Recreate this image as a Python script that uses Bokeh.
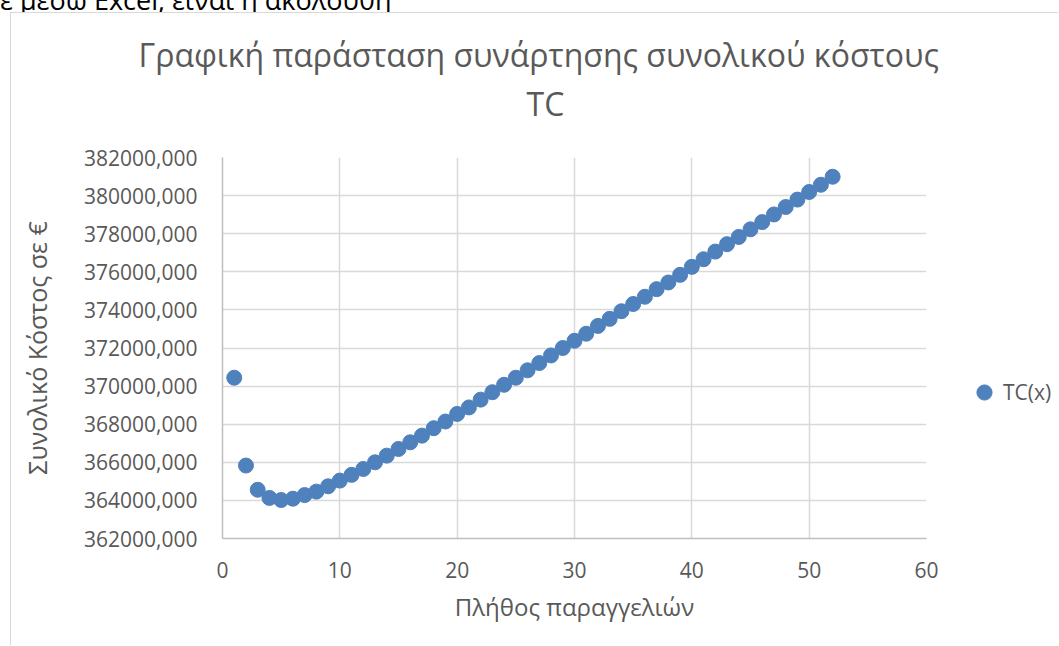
from bokeh.plotting import figure
from bokeh.models import (ColumnDataSource, Legend, LegendItem, Title, Div,
                          FixedTicker, CustomJSTickFormatter, Range1d)
from bokeh.layouts import column, row
from bokeh.embed import file_html
from bokeh.resources import INLINE

# ---- data ----
orders = list(range(1, 53))
total_cost = [370440, 365830, 364560, 364130, 364020, 364090, 364280, 364460, 364740, 365040,
              365340, 365650, 366000, 366350, 366700, 367050, 367400, 367790, 368140, 368540,
              368880, 369290, 369680, 370070, 370440, 370830, 371210, 371610, 372000, 372380,
              372750, 373160, 373530, 373930, 374310, 374690, 375090, 375440, 375840, 376260,
              376660, 377060, 377450, 377830, 378230, 378610, 379010, 379400, 379790, 380190,
              380570, 380990]
x_ticks = [0, 10, 20, 30, 40, 50, 60]
y_ticks = list(range(362000, 382001, 2000))
series_name = "TC(x)"
title_line1 = "Γραφική παράσταση συνάρτησης συνολικού κόστους"
title_line2 = "TC"
x_title = "Πλήθος παραγγελιών"
y_title = "Συνολικό Κόστος σε €"
top_text = "ε μέσω Excel, είναι η ακόλουθη"

FONT = "Open Sans"
GREY = "#595959"
BLUE = "#4F81BD"
BORDER = "1px solid #D9D9D9"
W, H = 1059, 646
OX, OY = 11, 13                      # canvas origin in the page (after border)
SPLIT = 960                          # page x where the legend panel starts
FL, FR, FT, FB = 222, 926, 157, 538  # frame edges in page px

src = ColumnDataSource(dict(x=orders, y=total_cost))

p = figure(width=SPLIT - OX, height=H - OY, output_backend="svg", toolbar_location=None,
           x_range=Range1d(0, 60), y_range=Range1d(362000, 382000),
           min_border_left=FL - OX, min_border_right=SPLIT - FR,
           min_border_top=FT - OY, min_border_bottom=H - FB,
           margin=(0, 0, 0, 10), styles={"border-left": BORDER, "border-top": BORDER})
p.background_fill_color = "white"
p.border_fill_color = "white"
p.outline_line_color = None

# axes
p.xaxis.ticker = FixedTicker(ticks=x_ticks)
p.yaxis.ticker = FixedTicker(ticks=y_ticks)
p.yaxis.formatter = CustomJSTickFormatter(code="return tick.toFixed(0) + ',000';")
for ax in (p.xaxis[0], p.yaxis[0]):
    ax.axis_line_color = "#BFBFBF"
    ax.axis_line_width = 1.5
    ax.major_tick_line_color = None
    ax.minor_tick_line_color = None
    ax.major_label_text_font = FONT
    ax.major_label_text_font_size = "21px"
    ax.major_label_text_color = GREY
    ax.axis_label_text_font = FONT
    ax.axis_label_text_color = GREY
    ax.axis_label_text_font_style = "normal"
p.xaxis.axis_label_text_font_size = "24px"
p.yaxis.axis_label_text_font_size = "25px"
p.xaxis.major_label_standoff = 17
p.yaxis.major_label_standoff = 19
p.xaxis.axis_label = x_title
p.yaxis.axis_label = y_title
p.xaxis.axis_label_standoff = 9
p.yaxis.axis_label_standoff = 27

p.xgrid.grid_line_color = "#D9D9D9"
p.ygrid.grid_line_color = "#D9D9D9"
p.xgrid.grid_line_width = 1.5
p.ygrid.grid_line_width = 1.5

r = p.scatter("x", "y", source=src, size=15, fill_color=BLUE, line_color=BLUE)

# chart title, two lines (first added sits closest to the plot); a blank spacer first
p.add_layout(Title(text=" ", text_font_size="1px", standoff=29), "above")
p.add_layout(Title(text=title_line2, align="left", offset=304, text_font=FONT,
                   text_font_size="32px", text_color=GREY, text_font_style="normal",
                   standoff=2), "above")
p.add_layout(Title(text=title_line1, align="left", offset=138 - FL, text_font=FONT,
                   text_font_size="32px", text_color=GREY, text_font_style="normal",
                   standoff=5), "above")

# legend panel on the right (its scatter uses the same data, outside its view)
lg = figure(width=W - SPLIT, height=H - OY, output_backend="svg", toolbar_location=None,
            x_range=Range1d(-2, -1), y_range=Range1d(-2, -1),
            min_border=0, margin=(0, 0, 0, 0), styles={"border-top": BORDER})
lg.axis.visible = False
lg.grid.visible = False
lg.outline_line_color = None
lg.background_fill_color = "white"
lg.border_fill_color = "white"
proxy = lg.scatter("x", "y", source=src, size=15, fill_color=BLUE, line_color=BLUE)
legend = Legend(items=[LegendItem(label=series_name, renderers=[proxy])],
                location=(6, 127), glyph_width=38, glyph_height=38,
                label_standoff=-13, padding=0, margin=0, border_line_color=None,
                background_fill_alpha=0, label_text_font=FONT,
                label_text_font_size="21px", label_text_color=GREY)
lg.add_layout(legend, "center")

# text of the page above the chart, cut off by the top edge
top = Div(text=('<div style="font-family:\'Open Sans\';font-size:27px;line-height:27px;'
                'color:black;white-space:nowrap;margin:0;position:relative;top:-14px;">'
                + top_text + '</div>'),
          width=W, height=OY - 1, margin=(0, 0, 0, 0), styles={"overflow": "hidden"})

layout = column(top, row(p, lg, spacing=0), spacing=0)
open("out.html", "w").write(file_html(layout, INLINE))
